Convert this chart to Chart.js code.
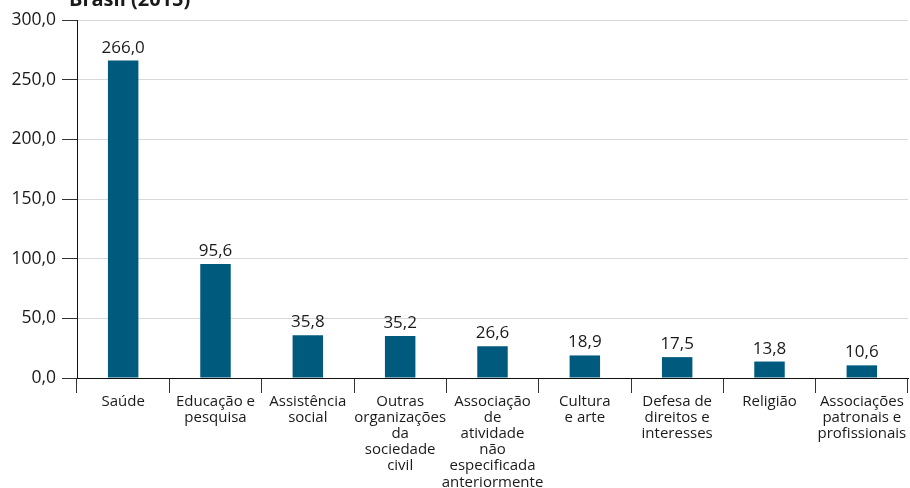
<!DOCTYPE html>
<html>
<head>
<meta charset="utf-8">
<script src="https://cdn.jsdelivr.net/npm/chart.js@4/dist/chart.umd.min.js"></script>
<style>
html,body{margin:0;padding:0;background:#fff;}
#wrap{width:910px;height:488px;position:relative;}
</style>
</head>
<body>
<div id="wrap"><canvas id="c" width="910" height="488"></canvas></div>
<script>
const categories = [
  ["Saúde"],
  ["Educação e","pesquisa"],
  ["Assistência","social"],
  ["Outras","organizações","da","sociedade","civil"],
  ["Associação","de","atividade","não","especificada","anteriormente"],
  ["Cultura","e arte"],
  ["Defesa de","direitos e","interesses"],
  ["Religião"],
  ["Associações","patronais e","profissionais"]
];
const values = [266.0, 95.6, 35.8, 35.2, 26.6, 18.9, 17.5, 13.8, 10.6];
const titleText = "Brasil (2015)";

const FONT = "'Open Sans', 'Noto Sans', sans-serif";
const fmt = v => v.toFixed(1).replace('.', ',');

const labelPlugin = {
  id: 'valueLabels',
  afterDatasetsDraw(chart) {
    const ctx = chart.ctx;
    const meta = chart.getDatasetMeta(0);
    ctx.save();
    ctx.font = "17px " + FONT;
    ctx.fillStyle = "#1a1a1a";
    ctx.textAlign = "center";
    ctx.textBaseline = "alphabetic";
    meta.data.forEach((bar, i) => {
      ctx.fillText(fmt(values[i]), bar.x, bar.y - 8);
    });
    ctx.restore();
  },
  afterDraw(chart) {
    const ctx = chart.ctx;
    ctx.save();
    ctx.font = "bold 20px " + FONT;
    ctx.fillStyle = "#1a1a1a";
    ctx.textAlign = "left";
    ctx.textBaseline = "alphabetic";
    ctx.fillText(titleText, 69, 6);
    ctx.restore();
  }
};

new Chart(document.getElementById('c'), {
  type: 'bar',
  data: {
    labels: categories,
    datasets: [{
      data: values,
      backgroundColor: '#005a7d',
      barPercentage: 0.33,
      categoryPercentage: 1.0
    }]
  },
  options: {
    responsive: false,
    animation: false,
    layout: { padding: { top: 20, right: 2, left: 0, bottom: 0 } },
    plugins: { legend: { display: false }, tooltip: { enabled: false } },
    scales: {
      x: {
        offset: true,
        grid: {
          offset: true,
          drawOnChartArea: false,
          drawTicks: true,
          tickLength: 15,
          tickColor: '#333',
          color: '#333'
        },
        border: { display: true, color: '#111', width: 1 },
        ticks: {
          font: { family: FONT, size: 15, lineHeight: 1.07 },
          color: '#1a1a1a',
          padding: 1,
          maxRotation: 0,
          minRotation: 0,
          autoSkip: false
        },
        afterFit(scale) { scale.height = 110; }
      },
      y: {
        min: 0,
        max: 300,
        grid: {
          color: '#d9d9d9',
          tickColor: '#333',
          tickLength: 15,
          drawTicks: true
        },
        border: { display: true, color: '#111', width: 1 },
        ticks: {
          stepSize: 50,
          font: { family: FONT, size: 17.5 },
          color: '#1a1a1a',
          padding: 6,
          callback: v => fmt(v)
        },
        afterFit(scale) { scale.width = 77; }
      }
    }
  },
  plugins: [labelPlugin]
});
</script>
</body>
</html>
